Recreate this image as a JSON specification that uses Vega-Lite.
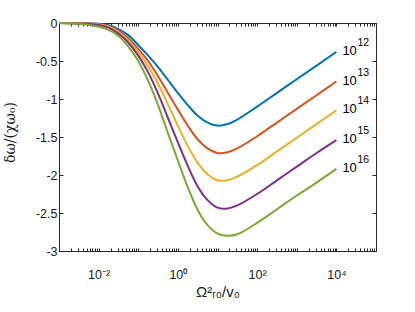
{
  "$schema": "https://vega.github.io/schema/vega-lite/v6.json",
  "autosize": {"type": "none"},
  "width": 317,
  "height": 228,
  "padding": {"left": 59, "top": 23, "right": 39, "bottom": 61},
  "background": "white",
  "config": {
    "view": {"stroke": "#262626", "strokeWidth": 1},
    "axis": {"grid": false, "domainColor": "#262626", "tickColor": "#262626", "labelColor": "#1a1a1a", "titleColor": "#1a1a1a", "labelFont": "Liberation Sans", "titleFont": "Liberation Sans", "labelFontSize": 12.5, "titleFontWeight": "normal", "domainWidth": 1, "tickWidth": 1}
  },
  "data": {"values": [
    {"x":0.001,"y":0,"s":"12"},{"x":0.0031623,"y":-0.002,"s":"12"},{"x":0.01,"y":-0.01,"s":"12"},{"x":0.017783,"y":-0.03,"s":"12"},{"x":0.031623,"y":-0.08,"s":"12"},{"x":0.056234,"y":-0.16,"s":"12"},{"x":0.1,"y":-0.29,"s":"12"},{"x":0.17783,"y":-0.43,"s":"12"},{"x":0.31623,"y":-0.58,"s":"12"},{"x":0.56234,"y":-0.75,"s":"12"},{"x":1,"y":-0.92,"s":"12"},{"x":1.7783,"y":-1.08,"s":"12"},{"x":3.1623,"y":-1.22,"s":"12"},{"x":5.6234,"y":-1.31,"s":"12"},{"x":10,"y":-1.35,"s":"12"},{"x":17.783,"y":-1.33,"s":"12"},{"x":31.623,"y":-1.27,"s":"12"},{"x":100,"y":-1.10,"s":"12"},{"x":316.23,"y":-0.92,"s":"12"},{"x":1000,"y":-0.74,"s":"12"},{"x":3162.3,"y":-0.56,"s":"12"},{"x":10000,"y":-0.38,"s":"12"},
    {"x":0.001,"y":0,"s":"13"},{"x":0.0031623,"y":-0.003,"s":"13"},{"x":0.01,"y":-0.015,"s":"13"},{"x":0.017783,"y":-0.04,"s":"13"},{"x":0.031623,"y":-0.10,"s":"13"},{"x":0.056234,"y":-0.20,"s":"13"},{"x":0.1,"y":-0.34,"s":"13"},{"x":0.17783,"y":-0.50,"s":"13"},{"x":0.31623,"y":-0.70,"s":"13"},{"x":0.56234,"y":-0.92,"s":"13"},{"x":1,"y":-1.14,"s":"13"},{"x":1.7783,"y":-1.35,"s":"13"},{"x":3.1623,"y":-1.53,"s":"13"},{"x":5.6234,"y":-1.65,"s":"13"},{"x":10,"y":-1.71,"s":"13"},{"x":17.783,"y":-1.70,"s":"13"},{"x":31.623,"y":-1.65,"s":"13"},{"x":100,"y":-1.49,"s":"13"},{"x":316.23,"y":-1.31,"s":"13"},{"x":1000,"y":-1.13,"s":"13"},{"x":3162.3,"y":-0.95,"s":"13"},{"x":10000,"y":-0.77,"s":"13"},
    {"x":0.001,"y":0,"s":"14"},{"x":0.0031623,"y":-0.004,"s":"14"},{"x":0.01,"y":-0.02,"s":"14"},{"x":0.017783,"y":-0.05,"s":"14"},{"x":0.031623,"y":-0.12,"s":"14"},{"x":0.056234,"y":-0.23,"s":"14"},{"x":0.1,"y":-0.38,"s":"14"},{"x":0.17783,"y":-0.57,"s":"14"},{"x":0.31623,"y":-0.80,"s":"14"},{"x":0.56234,"y":-1.07,"s":"14"},{"x":1,"y":-1.35,"s":"14"},{"x":1.7783,"y":-1.62,"s":"14"},{"x":3.1623,"y":-1.84,"s":"14"},{"x":5.6234,"y":-1.99,"s":"14"},{"x":10,"y":-2.07,"s":"14"},{"x":17.783,"y":-2.07,"s":"14"},{"x":31.623,"y":-2.02,"s":"14"},{"x":100,"y":-1.87,"s":"14"},{"x":316.23,"y":-1.69,"s":"14"},{"x":1000,"y":-1.51,"s":"14"},{"x":3162.3,"y":-1.33,"s":"14"},{"x":10000,"y":-1.15,"s":"14"},
    {"x":0.001,"y":0,"s":"15"},{"x":0.0031623,"y":-0.005,"s":"15"},{"x":0.01,"y":-0.025,"s":"15"},{"x":0.017783,"y":-0.06,"s":"15"},{"x":0.031623,"y":-0.14,"s":"15"},{"x":0.056234,"y":-0.26,"s":"15"},{"x":0.1,"y":-0.43,"s":"15"},{"x":0.17783,"y":-0.65,"s":"15"},{"x":0.31623,"y":-0.93,"s":"15"},{"x":0.56234,"y":-1.25,"s":"15"},{"x":1,"y":-1.57,"s":"15"},{"x":1.7783,"y":-1.88,"s":"15"},{"x":3.1623,"y":-2.15,"s":"15"},{"x":5.6234,"y":-2.33,"s":"15"},{"x":10,"y":-2.43,"s":"15"},{"x":17.783,"y":-2.44,"s":"15"},{"x":31.623,"y":-2.40,"s":"15"},{"x":100,"y":-2.25,"s":"15"},{"x":316.23,"y":-2.07,"s":"15"},{"x":1000,"y":-1.89,"s":"15"},{"x":3162.3,"y":-1.71,"s":"15"},{"x":10000,"y":-1.54,"s":"15"},
    {"x":0.001,"y":0,"s":"16"},{"x":0.0031623,"y":-0.01,"s":"16"},{"x":0.01,"y":-0.05,"s":"16"},{"x":0.017783,"y":-0.09,"s":"16"},{"x":0.031623,"y":-0.17,"s":"16"},{"x":0.056234,"y":-0.31,"s":"16"},{"x":0.1,"y":-0.50,"s":"16"},{"x":0.17783,"y":-0.76,"s":"16"},{"x":0.31623,"y":-1.08,"s":"16"},{"x":0.56234,"y":-1.45,"s":"16"},{"x":1,"y":-1.81,"s":"16"},{"x":1.7783,"y":-2.16,"s":"16"},{"x":3.1623,"y":-2.46,"s":"16"},{"x":5.6234,"y":-2.66,"s":"16"},{"x":10,"y":-2.77,"s":"16"},{"x":17.783,"y":-2.80,"s":"16"},{"x":31.623,"y":-2.78,"s":"16"},{"x":100,"y":-2.63,"s":"16"},{"x":316.23,"y":-2.45,"s":"16"},{"x":1000,"y":-2.27,"s":"16"},{"x":3162.3,"y":-2.10,"s":"16"},{"x":10000,"y":-1.92,"s":"16"}
  ]},
  "resolve": {"axis": {"x": "independent", "y": "independent"}},
  "layer": [
    {
      "mark": {"type": "line", "strokeWidth": 2, "interpolate": "catmull-rom"},
      "encoding": {
        "x": {"field": "x", "type": "quantitative",
          "scale": {"type": "log", "domain": [0.001, 100000], "nice": false},
          "axis": {"orient": "bottom",
            "values": [0.001,0.002,0.003,0.004,0.005,0.006,0.007,0.008,0.009,0.01,0.02,0.03,0.04,0.05,0.06,0.07,0.08,0.09,0.1,0.2,0.3,0.4,0.5,0.6,0.7,0.8,0.9,1,2,3,4,5,6,7,8,9,10,20,30,40,50,60,70,80,90,100,200,300,400,500,600,700,800,900,1000,2000,3000,4000,5000,6000,7000,8000,9000,10000,20000,30000,40000,50000,60000,70000,80000,90000,100000],
            "labelExpr": "datum.value == 0.01 ? '10⁻²' : datum.value == 1 ? '10⁰' : datum.value == 100 ? '10²' : datum.value == 10000 ? '10⁴' : ''",
            "labelOverlap": false, "labelFlush": false, "tickSize": -3,
            "labelBaseline": "alphabetic", "labelPadding": 30,
            "title": "Ω²ᵣ₀/v₀", "titleFontSize": 15, "titleX": 158.5, "titleY": 45, "titleBaseline": "alphabetic", "titleAlign": "center"}},
        "y": {"field": "y", "type": "quantitative",
          "scale": {"domain": [-3, 0], "nice": false, "zero": false},
          "axis": {"orient": "left", "values": [-3,-2.5,-2,-1.5,-1,-0.5,0],
            "labelExpr": "toString(datum.value)", "tickSize": -4, "labelPadding": 6,
            "title": "δω/(χω₀)", "titleFont": "DejaVu Serif", "titleFontSize": 14,
            "titleX": -49, "titleY": 109, "titleAngle": -90, "titleAlign": "center", "titleBaseline": "middle"}},
        "color": {"field": "s", "type": "nominal", "legend": null,
          "scale": {"domain": ["12","13","14","15","16"], "range": ["#0072BD","#D95319","#EDB120","#7E2F8E","#77AC30"]}}
      }
    },
    {
      "transform": [{"filter": "datum.x == 10000"}],
      "mark": {"type": "text", "align": "left", "baseline": "middle", "dx": 6, "dy": -1, "fontSize": 13, "font": "Liberation Sans", "color": "#000000"},
      "encoding": {
        "x": {"field": "x", "type": "quantitative",
          "axis": {"orient": "top", "labels": false, "title": null, "tickSize": -3, "domain": true,
            "values": [0.001,0.002,0.003,0.004,0.005,0.006,0.007,0.008,0.009,0.01,0.02,0.03,0.04,0.05,0.06,0.07,0.08,0.09,0.1,0.2,0.3,0.4,0.5,0.6,0.7,0.8,0.9,1,2,3,4,5,6,7,8,9,10,20,30,40,50,60,70,80,90,100,200,300,400,500,600,700,800,900,1000,2000,3000,4000,5000,6000,7000,8000,9000,10000,20000,30000,40000,50000,60000,70000,80000,90000,100000]}},
        "y": {"field": "y", "type": "quantitative",
          "axis": {"orient": "right", "labels": false, "title": null, "tickSize": -4, "values": [-3,-2.5,-2,-1.5,-1,-0.5,0]}},
        "text": {"value": "10"}
      }
    },
    {
      "transform": [{"filter": "datum.x == 10000"}],
      "mark": {"type": "text", "align": "left", "baseline": "middle", "dx": 21, "dy": -9, "fontSize": 10.5, "font": "Liberation Sans", "color": "#000000"},
      "encoding": {
        "x": {"field": "x", "type": "quantitative", "axis": null},
        "y": {"field": "y", "type": "quantitative", "axis": null},
        "text": {"field": "s"}
      }
    }
  ]
}
